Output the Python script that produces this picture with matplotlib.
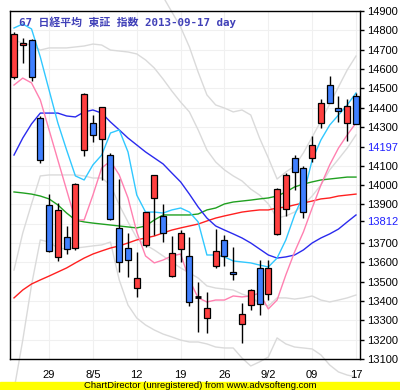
import matplotlib.pyplot as plt
import numpy as np
from matplotlib.patches import Rectangle

plt.rcParams['font.family'] = ['Liberation Sans', 'Noto Sans CJK JP']

# daily candles, 2013-07-23 .. 2013-09-17
opens = [14560, 14724, 14750, 14347, 13897, 13628, 13731, 13674, 14181, 14321,
         14238, 14155, 13778, 13674, 13467, 13690, 13935, 13840, 13529, 13669,
         13633, 13422, 13312, 13581, 13716, 13550, 13281, 13379, 13571, 13436,
         13747, 13876, 14140, 14088, 14140, 14321, 14517, 14398, 14321, 14460]
highs = [14790, 14760, 14755, 14355, 13953, 13907, 13788, 14010, 14475, 14362,
         14405, 14166, 14031, 13752, 13654, 13860, 14050, 13900, 13736, 13767,
         13731, 13498, 13447, 13773, 13741, 13679, 13390, 13463, 13612, 13612,
         13985, 14062, 14155, 14098, 14253, 14445, 14564, 14460, 14445, 14476]
lows = [14550, 14631, 14538, 14114, 13655, 13607, 13643, 13664, 14150, 14222,
        14026, 13820, 13550, 13524, 13421, 13680, 13741, 13705, 13525, 13600,
        13374, 13240, 13235, 13571, 13581, 13509, 13183, 13354, 13328, 13405,
        13740, 13840, 13974, 13829, 14119, 14295, 14424, 14326, 14228, 14316]
closes = [14780, 14734, 14559, 14129, 13659, 13871, 13669, 14005, 14471, 14259,
          14403, 13824, 13602, 13612, 13519, 13860, 14050, 13752, 13648, 13752,
          13395, 13422, 13364, 13659, 13633, 13540, 13333, 13457, 13385, 13571,
          13979, 14052, 14067, 13860, 14207, 14424, 14424, 14383, 14409, 14316]

# indicator lines
cyan_line = [14812, 14833, 14807, 14662, 14491, 14321, 14181, 14047, 14026, 14104,
             14155, 14269, 14285, 14171, 13948, 13860, 13860, 13855, 13871, 13881,
             13860, 13809, 13638, 13638, 13628, 13607, 13602, 13597, 13586, 13576,
             13622, 13716, 13845, 13948, 14129, 14233, 14310, 14362, 14414, 14476]
pink_line = [14517, 14553, 14528, 14440, 14285, 14129, 13974, 13819, 13819, 13948,
             14088, 14124, 14052, 13933, 13757, 13633, 13597, 13612, 13633, 13643,
             13509, 13416, 13395, 13405, 13405, 13426, 13421, 13426, 13441, 13359,
             13405, 13535, 13654, 13757, 13881, 14000, 14104, 14191, 14259, 14321]
blue_line = [14155, 14243, 14316, 14372, 14372, 14372, 14357, 14352, 14378, 14388,
             14372, 14326, 14285, 14243, 14207, 14171, 14140, 14109, 14062, 14016,
             13953, 13886, 13829, 13788, 13767, 13747, 13726, 13700, 13669, 13638,
             13622, 13628, 13638, 13664, 13700, 13726, 13747, 13772, 13809, 13845]
green_line = [13964, 13959, 13953, 13943, 13928, 13897, 13855, 13819, 13809, 13803,
              13798, 13793, 13788, 13783, 13778, 13788, 13819, 13845, 13845, 13845,
              13845, 13850, 13871, 13881, 13902, 13912, 13917, 13922, 13928, 13933,
              13943, 13964, 13990, 14005, 14016, 14026, 14031, 14036, 14041, 14041]
red_line = [13416, 13457, 13488, 13509, 13529, 13550, 13571, 13597, 13622, 13643,
            13659, 13674, 13685, 13700, 13716, 13726, 13736, 13752, 13767, 13778,
            13788, 13798, 13814, 13829, 13840, 13850, 13860, 13866, 13871, 13871,
            13881, 13886, 13897, 13907, 13917, 13928, 13933, 13943, 13948, 13953]
band_up2 = [15300, 15280, 15200, 15100, 15080, 15100, 15080, 15070, 15100, 15110,
            15090, 15030, 15040, 15060, 15070, 15060, 15040, 14974, 14895, 14817,
            14714, 14584, 14466, 14414, 14398, 14378, 14388, 14362, 14243, 14140,
            14031, 14067, 14098, 14166, 14248, 14331, 14419, 14507, 14595, 14667]
band_up1 = [14750, 14734, 14724, 14698, 14709, 14709, 14709, 14714, 14719, 14729,
            14724, 14698, 14693, 14688, 14678, 14647, 14605, 14548, 14486, 14429,
            14378, 14285, 14181, 14119, 14078, 14047, 14021, 13979, 13948, 13902,
            13829, 13840, 13860, 13897, 13943, 14000, 14078, 14134, 14191, 14259]
band_lo1 = [13560, 13752, 13902, 14047, 14052, 14052, 14052, 14052, 14047, 14036,
            14036, 14000, 13897, 13809, 13726, 13690, 13664, 13633, 13602, 13571,
            13545, 13519, 13478, 13467, 13462, 13457, 13436, 13421, 13390, 13374,
            13416, 13416, 13410, 13416, 13426, 13405, 13395, 13405, 13416, 13431]
band_lo2 = [12940, 13198, 13483, 13716, 13705, 13674, 13669, 13674, 13679, 13685,
            13690, 13705, 13509, 13379, 13312, 13276, 13250, 13229, 13214, 13198,
            13188, 13188, 13178, 13162, 13157, 13157, 13105, 13064, 13085, 13110,
            13209, 13178, 13162, 13157, 13152, 13121, 13069, 13033, 13017, 13007]

tick_pos = [4, 9, 14, 19, 24, 29, 34, 39]
tick_labels = ['29', '8/5', '12', '19', '26', '9/2', '09', '17']
marked = {14197: '14197', 13812: '13812'}

fig = plt.figure(figsize=(4, 3.9), dpi=100)
ax = fig.add_axes([10 / 400, 31 / 390, 350 / 400, 348 / 390])
x = np.arange(len(opens))

# grid
for v in range(13100, 14901, 100):
    ax.axhline(v, color='#f0f0f0', lw=0.8, zorder=0)
for p in tick_pos:
    ax.axvline(p, color='#f0f0f0', lw=0.8, zorder=0)

for band in [band_up2, band_up1, band_lo1, band_lo2]:
    ax.plot(x, band, color='#dadada', lw=1, zorder=1, clip_on=False)

ax.plot(x, red_line, color='#ff2020', lw=1, zorder=2)
ax.plot(x, green_line, color='#20a020', lw=1, zorder=2)
ax.plot(x, blue_line, color='#2a2aee', lw=1, zorder=2)
ax.plot(x, pink_line, color='#ff80b0', lw=1, zorder=2)
ax.plot(x, cyan_line, color='#30c8ff', lw=1, zorder=2)

# candles
for i in x:
    o, h, l, c = opens[i], highs[i], lows[i], closes[i]
    ax.vlines(i, l, h, color='black', lw=1, zorder=3)
    if c == o:
        ax.hlines(o, i - 0.34, i + 0.34, color='black', lw=2, zorder=4)
        continue
    col = '#ff4040' if c > o else '#4080ff'
    ax.bar(i, abs(c - o), bottom=min(o, c), width=0.68, color=col,
           edgecolor='black', lw=0.9, zorder=4)

ax.set_xlim(-0.456, 39.456)
ax.set_ylim(13100, 14900)

yt = sorted([v for v in range(13100, 14901, 100) if v not in (14200, 13800)] + list(marked))
ax.yaxis.tick_right()
ax.set_yticks(yt)
ax.set_yticklabels([marked.get(v, str(v)) for v in yt])
for lab, v in zip(ax.get_yticklabels(), yt):
    if v in marked:
        lab.set_color('#2020ff')
ax.tick_params(axis='y', direction='out', length=3, width=1, pad=2, labelsize=8)
ax.set_xticks(tick_pos)
ax.set_xticklabels(tick_labels)
ax.tick_params(axis='x', length=0, pad=8, labelsize=8)
for s in ax.spines.values():
    s.set_linewidth(1)
    s.set_zorder(5)

ax.text(9 / 350, 1 - 11 / 348, '67 日経平均 東証 指数 2013-09-17 day', transform=ax.transAxes,
        family=['DejaVu Sans Mono', 'Noto Sans CJK JP'], fontweight='bold', fontsize=7.8,
        color='#4040b8', va='center', ha='left', zorder=6)

fig.patches.append(Rectangle((0, 0), 1, 8.5 / 390, transform=fig.transFigure,
                             color='#ffff00', zorder=10))
fig.text(0.5, 4.5 / 390, 'ChartDirector (unregistered) from www.advsofteng.com',
         ha='center', va='center', fontsize=6.8, zorder=11)

fig.savefig('out.png', dpi=100)
